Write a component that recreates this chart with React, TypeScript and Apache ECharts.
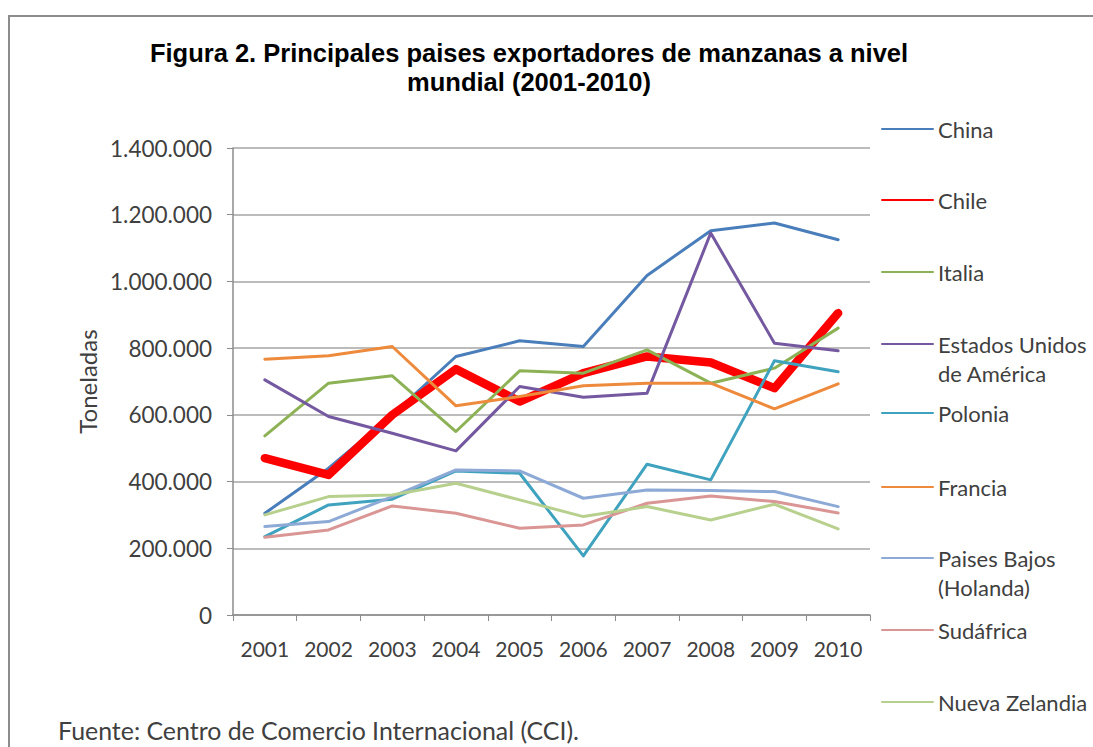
import React, { useEffect, useRef } from "react";
import * as echarts from "echarts";

const years = ["2001", "2002", "2003", "2004", "2005", "2006", "2007", "2008", "2009", "2010"];
const yTicks = [0, 200000, 400000, 600000, 800000, 1000000, 1200000, 1400000];

const china = [305000, 440000, 600000, 775000, 822000, 805000, 1018000, 1152000, 1175000, 1125000];
const chile = [470000, 420000, 600000, 737000, 640000, 725000, 775000, 757000, 680000, 905000];
const italia = [537000, 695000, 717000, 550000, 732000, 725000, 795000, 695000, 740000, 860000];
const eeuu = [705000, 595000, 545000, 492000, 685000, 653000, 665000, 1145000, 815000, 792000];
const polonia = [235000, 330000, 347000, 432000, 425000, 177000, 452000, 405000, 762000, 729000];
const francia = [767000, 777000, 805000, 627000, 655000, 687000, 695000, 695000, 618000, 693000];
const paisesBajos = [265000, 280000, 355000, 435000, 432000, 350000, 375000, 373000, 370000, 325000];
const sudafrica = [233000, 255000, 327000, 305000, 260000, 270000, 335000, 357000, 340000, 306000];
const nuevaZelandia = [300000, 355000, 360000, 395000, 345000, 295000, 325000, 285000, 332000, 258000];

const seriesNames = [
  "China",
  "Chile",
  "Italia",
  "Estados Unidos de América",
  "Polonia",
  "Francia",
  "Paises Bajos (Holanda)",
  "Sudáfrica",
  "Nueva Zelandia",
];
const legendLabels = [
  "China",
  "Chile",
  "Italia",
  "Estados Unidos\nde América",
  "Polonia",
  "Francia",
  "Paises Bajos\n(Holanda)",
  "Sudáfrica",
  "Nueva Zelandia",
];
const seriesData = [china, chile, italia, eeuu, polonia, francia, paisesBajos, sudafrica, nuevaZelandia];
const seriesColors = ["#4A7EBB", "#FF0000", "#8DB255", "#7459A0", "#3FA2BE", "#EE8A3C", "#8DAAD6", "#D99694", "#B8D08E"];
const seriesWidths = [3, 8.5, 3, 3, 3, 3, 3, 3, 3];
const legendCenters = [129, 200, 272, 344, 413, 487, 558, 630, 702];

const titleText = "Figura 2. Principales paises exportadores de manzanas a nivel\nmundial (2001-2010)";
const footerText = "Fuente: Centro de Comercio Internacional (CCI).";

const FONT = "Lato";
const TXT = "#404040";
const LH = 29;

function fmt(v: number): string {
  return String(Math.round(v)).replace(/\B(?=(\d{3})+(?!\d))/g, ".");
}

export default function App() {
  const ref = useRef<HTMLDivElement>(null);
  useEffect(() => {
    if (!ref.current) return;
    const chart = echarts.init(ref.current, null, { renderer: "svg" });
    const legends = seriesNames.map((name, i) => {
      const multi = legendLabels[i].includes("\n");
      return {
        data: [name],
        left: 881,
        top: legendCenters[i] - (multi ? 1.5 * LH : 0.5 * LH),
        orient: "vertical",
        padding: 0,
        itemWidth: 51,
        itemHeight: 10,
        itemGap: 0,
        selectedMode: false,
        itemStyle: { opacity: 0 },
        formatter: () => (multi ? "\n" + legendLabels[i] : legendLabels[i]),
        textStyle: {
          fontFamily: FONT,
          fontSize: 22,
          color: TXT,
          lineHeight: LH,
        },
      };
    });
    chart.setOption({
      animation: false,
      backgroundColor: "#ffffff",
      title: {
        text: titleText,
        left: 529,
        top: 38,
        textAlign: "center",
        padding: 0,
        textStyle: {
          fontFamily: "Liberation Sans",
          fontWeight: "bold",
          fontSize: 25.5,
          lineHeight: 29,
          color: "#000000",
        },
      },
      legend: legends,
      grid: { left: 233, right: 223, top: 148, bottom: 132, containLabel: false },
      xAxis: {
        type: "category",
        data: years,
        boundaryGap: true,
        axisLine: { show: true, lineStyle: { color: "#8c8c8c", width: 1.5 } },
        axisTick: { show: true, length: 6, lineStyle: { color: "#8c8c8c" } },
        axisLabel: { fontFamily: FONT, fontSize: 21, color: TXT, margin: 23 },
      },
      yAxis: {
        type: "value",
        min: 0,
        max: 1400000,
        interval: 200000,
        name: "Toneladas",
        nameLocation: "middle",
        nameRotate: 90,
        nameGap: 129,
        nameTextStyle: { fontFamily: FONT, fontSize: 24, color: TXT },
        axisLine: { show: true, lineStyle: { color: "#8c8c8c", width: 1.5 } },
        axisTick: { show: true, length: 6, lineStyle: { color: "#8c8c8c" } },
        splitLine: { show: true, lineStyle: { color: "#a6a6a6", width: 1.5 } },
        axisLabel: {
          fontFamily: FONT,
          fontSize: 22.5,
          color: TXT,
          margin: 21,
          formatter: (v: number) => (yTicks.includes(v) ? fmt(v) : ""),
        },
      },
      series: seriesNames.map((name, i) => ({
        name,
        type: "line",
        data: seriesData[i],
        symbol: "none",
        showSymbol: false,
        color: seriesColors[i],
        lineStyle: { color: seriesColors[i], width: seriesWidths[i], cap: "round", join: "round" },
        emphasis: { disabled: true },
      })),
      graphic: [
        {
          type: "rect",
          shape: { x: 9, y: 16, width: 1200, height: 900 },
          style: { fill: "none", stroke: "#8c8c8c", lineWidth: 2 },
          silent: true,
          z: 100,
        },
        {
          type: "text",
          left: 58,
          top: 717,
          style: { text: footerText, fontFamily: FONT, fontSize: 24.9, fill: TXT },
        },
      ],
    });
    return () => chart.dispose();
  }, []);
  return (
    <div
      ref={ref}
      style={{ position: "fixed", left: 0, top: 0, width: 1093, height: 747, background: "#fff" }}
    />
  );
}
